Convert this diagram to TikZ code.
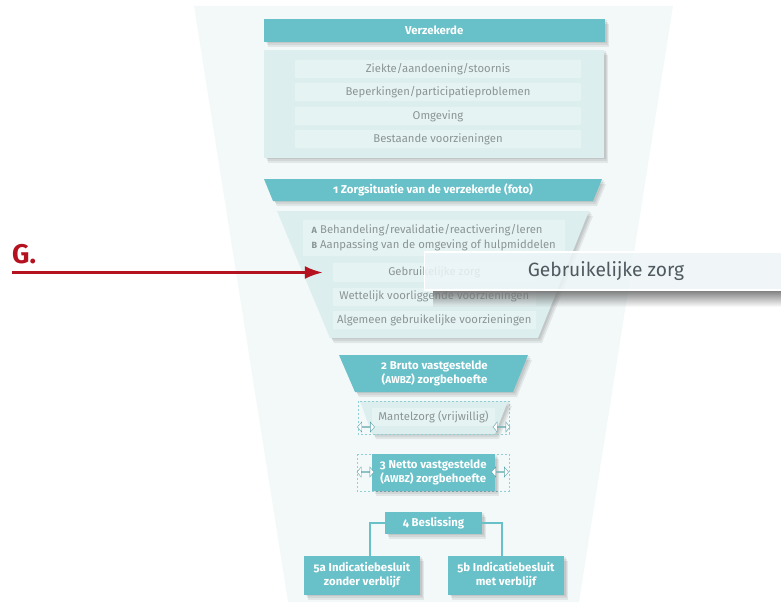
\documentclass[tikz,border=0pt]{standalone}
\usepackage{fontspec}
\setmainfont[Numbers=OldStyle]{Fira Sans}
\usetikzlibrary{shadows,fadings,shapes.arrows,arrows.meta}
\definecolor{funnelbg}{HTML}{F3F9F9}
\definecolor{tealfill}{HTML}{68C0C8}
\definecolor{pale}{HTML}{DCEEEE}
\definecolor{rowbg}{HTML}{E6F3F3}
\definecolor{greytxt}{HTML}{8A9496}
\definecolor{darktxt}{HTML}{50595F}
\definecolor{zoombg}{HTML}{EDF5F7}
\definecolor{redline}{HTML}{B5121F}
\newcommand{\kap}[1]{{\fontsize{10}{10}\selectfont #1}}
\tikzset{
	softshade/.style={
		general shadow={fill=black,opacity=.07,shadow xshift=2pt,shadow yshift=-1pt},
		general shadow={fill=black,opacity=.07,shadow xshift=3pt,shadow yshift=-3pt},
		general shadow={fill=black,opacity=.07,shadow xshift=4pt,shadow yshift=-5pt}},
	head/.style={softshade, fill=tealfill, text=white, font=\fontsize{11.4}{14}\selectfont\bfseries, align=center, inner sep=0pt},
	row/.style={fill=rowbg, text=greytxt, font=\fontsize{11.3}{15}\selectfont, align=center, inner sep=0pt},
	headtext/.style={text=white, font=\fontsize{11.4}{14}\selectfont\bfseries, align=center, inner sep=0pt},
	dashbox/.style={draw=tealfill!75, dash pattern=on 2pt off 2pt, line width=.4pt},
	dblarrow/.style={double arrow, draw=tealfill!85!black, fill=white, line width=.4pt, inner sep=0pt, minimum width=10pt, minimum height=17pt, double arrow head extend=2.5pt, double arrow tip angle=100, double arrow head indent=0pt},
	link/.style={draw=tealfill, line width=1.5pt}
}
\begin{document}
\begin{tikzpicture}[x=1pt, y=-1pt]
	\useasboundingbox (0,0) rectangle (781,602);
	\fill[funnelbg] (194,6) -- (673,6) -- (579,602) -- (288,602) -- cycle;
	%verzekerde
	\node[head, minimum width=340.5pt, minimum height=23pt] (verz) at (434.25,30.5) {Verzekerde};
	\fill[softshade, pale] (264,50) rectangle (604,158);
	\node[row, minimum width=286pt, minimum height=18pt] (ziekte) at (438,69) {Ziekte/aandoening/stoornis};
	\node[row, minimum width=286pt, minimum height=18pt] (beperk) at (438,92) {Beperkingen/participatieproblemen};
	\node[row, minimum width=286pt, minimum height=18pt] (omgev)  at (438,116) {Omgeving};
	\node[row, minimum width=286pt, minimum height=18pt] (bestaand) at (438,139) {Bestaande voorzieningen};
	%zorgsituatie
	\fill[softshade, tealfill] (264,179) -- (602,179) -- (593,201) -- (273,201) -- cycle;
	\node[headtext] (zorgsit) at (433,190) {1 Zorgsituatie van de verzekerde (foto)};
	\fill[softshade, pale] (277,211) -- (589,211) -- (538,338) -- (330,338) -- cycle;
	\node[row, align=left, minimum width=262.5pt, minimum height=36pt] (behand) at (433.75,238) {{\fontsize{9}{10}\selectfont\textbf{A}} Behandeling/revalidatie/reactivering/leren\\{\fontsize{9}{10}\selectfont\textbf{B}} Aanpassing van de omgeving of hulpmiddelen};
	\node[row, minimum width=203.5pt, minimum height=19pt] (gebr)   at (434.25,272.5) {Gebruikelijke zorg};
	\node[row, minimum width=203.5pt, minimum height=18.5pt] (wettel) at (434.25,296.75) {Wettelijk voorliggende voorzieningen};
	\node[row, minimum width=203.5pt, minimum height=18pt] (algem)  at (434.25,320) {Algemeen gebruikelijke voorzieningen};
	%bruto
	\fill[softshade, tealfill] (339,355) -- (528,355) -- (513,392) -- (355,392) -- cycle;
	\node[headtext] (bruto) at (434.5,373.5) {2 Bruto vastgestelde\\(\kap{AWBZ}) zorgbehoefte};
	\fill[softshade, pale] (360,401) -- (508,401) -- (495,434) -- (372,434) -- cycle;
	\draw[dashbox] (358,401) rectangle (509,434);
	\node[row, minimum width=123pt, minimum height=18pt] (mantel) at (433.5,417) {Mantelzorg (vrijwillig)};
	\node[dblarrow] (mantelL) at (366,427) {};
	\node[dblarrow] (mantelR) at (501.5,427) {};
	%netto
	\draw[dashbox] (357,454) rectangle (509,491);
	\node[head, minimum width=122.5pt, minimum height=37pt] (netto) at (433.25,472.5) {3 Netto vastgestelde\\(\kap{AWBZ}) zorgbehoefte};
	\node[dblarrow] (nettoL) at (365.5,472) {};
	\node[dblarrow] (nettoR) at (500,472) {};
	%beslissing
	\node[head, minimum width=97pt, minimum height=22pt] (besl) at (433.5,523) {4 Beslissing};
	\node[head, minimum width=116pt, minimum height=39pt] (zonder) at (362,575.5) {5a Indicatiebesluit\\zonder verblijf};
	\node[head, minimum width=116pt, minimum height=39pt] (met)    at (506,575.5) {5b Indicatiebesluit\\met verblijf};
	\draw[link] (besl.west) -| ([xshift=8pt]zonder.north);
	\draw[link] (besl.east) -| ([xshift=-4pt]met.north);
	%uitvergroot
	\fill[black!55, path fading=south] (433,289) rectangle (781,307);
	\fill[zoombg, opacity=.85] (424.5,252) rectangle (781,290);
	\draw[white, line width=1.2pt] (781,252) -- (424.5,252) -- (424.5,290) -- (781,290);
	\node[text=darktxt, font=\fontsize{19.2}{21}\selectfont, inner sep=0pt] (groot) at (606,271) {Gebruikelijke zorg};
	%pijl
	\node[text=redline, font=\fontsize{27}{30}\selectfont\bfseries, inner sep=0pt, anchor=base west] (letter) at (12,263) {G.};
	\coordinate (pijlstart) at (12,272.5);
	\draw[redline, line width=2.5pt, shorten >=9.5pt, -{Latex[length=18pt,width=13pt]}] (pijlstart) -- (gebr.west);
\end{tikzpicture}
\end{document}
